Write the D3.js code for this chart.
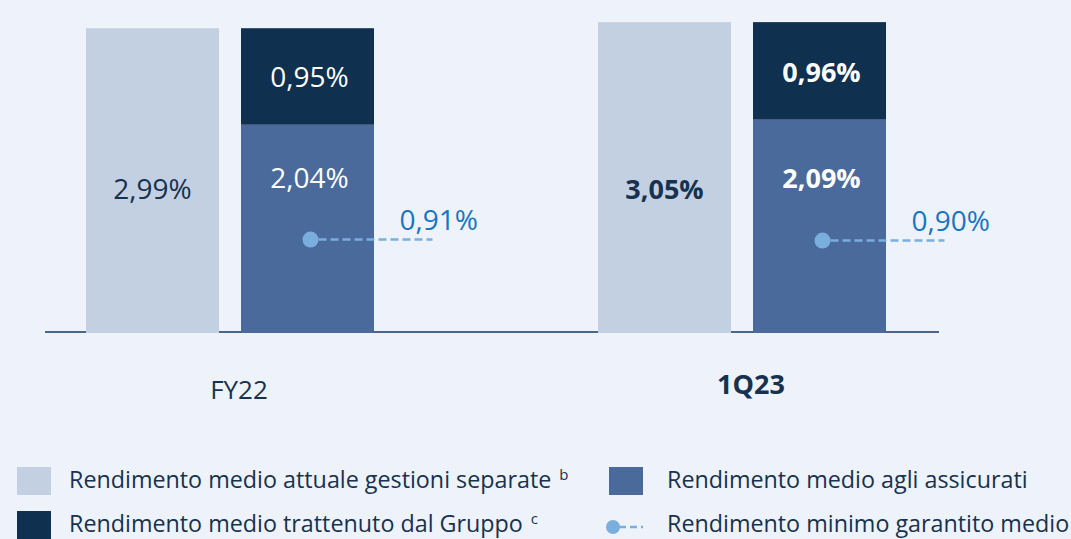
<!DOCTYPE html>
<html>
<head>
<meta charset="utf-8">
<script src="https://cdn.jsdelivr.net/npm/d3@7"></script>
<style>
  html, body { margin: 0; padding: 0; background: #EEF2FA; }
  svg { display: block; font-family: "Open Sans", "Noto Sans", sans-serif; }
</style>
</head>
<body>
<svg id="chart" width="1071" height="539"></svg>
<script>
// ---- data ----
const categories = ["FY22", "1Q23"];
const rendimentoGestioni = [2.99, 3.05];     // Rendimento medio attuale gestioni separate
const rendimentoAssicurati = [2.04, 2.09];   // Rendimento medio agli assicurati
const rendimentoTrattenuto = [0.95, 0.96];   // Rendimento medio trattenuto dal Gruppo
const minimoGarantito = [0.91, 0.90];        // Rendimento minimo garantito medio
const highlighted = [false, true];           // latest period shown in bold

const legendLabels = [
  "Rendimento medio attuale gestioni separate",
  "Rendimento medio agli assicurati",
  "Rendimento medio trattenuto dal Gruppo",
  "Rendimento minimo garantito medio"
];
const legendSup = ["b", "", "c", ""];

// ---- style ----
const C = {
  light: "#C3D0E2",
  mid: "#4A6A9B",
  dark: "#10304F",
  dot: "#7AAEDD",
  dotText: "#1776C2",
  text: "#17324F",
  axis: "#4A6586"
};

const loc = d3.formatLocale({ decimal: ",", thousands: ".", grouping: [3], currency: ["", "€"] });
const fmt = v => loc.format(".2f")(v) + "%";

const svg = d3.select("#chart");
const baseY = 332;

const y = d3.scaleLinear().domain([0, 3.1]).range([baseY, baseY - 3.1 * 101.6]);
const x0 = d3.scaleBand().domain(categories).range([86, 886]).paddingInner(0.4375).paddingOuter(0);
const x1 = d3.scaleBand().domain(["gestioni", "stack"]).range([0, x0.bandwidth()]).paddingInner(0.142).paddingOuter(0);

// axis baseline
svg.append("line")
  .attr("x1", 45).attr("x2", 939)
  .attr("y1", baseY).attr("y2", baseY)
  .attr("stroke", C.axis).attr("stroke-width", 2);

const g = svg.selectAll("g.cat").data(categories).join("g")
  .attr("class", "cat")
  .attr("transform", d => `translate(${x0(d)},0)`);

// light bars
g.append("rect")
  .attr("x", x1("gestioni")).attr("width", x1.bandwidth())
  .attr("y", (d, i) => y(rendimentoGestioni[i]))
  .attr("height", (d, i) => y(0) - y(rendimentoGestioni[i]) + 1)
  .attr("fill", C.light);

// stacked: assicurati (bottom)
g.append("rect")
  .attr("x", x1("stack")).attr("width", x1.bandwidth())
  .attr("y", (d, i) => y(rendimentoAssicurati[i]))
  .attr("height", (d, i) => y(0) - y(rendimentoAssicurati[i]) + 1)
  .attr("fill", C.mid);

// stacked: trattenuto (top)
g.append("rect")
  .attr("x", x1("stack")).attr("width", x1.bandwidth())
  .attr("y", (d, i) => y(rendimentoAssicurati[i] + rendimentoTrattenuto[i]))
  .attr("height", (d, i) => y(rendimentoAssicurati[i]) - y(rendimentoAssicurati[i] + rendimentoTrattenuto[i]))
  .attr("fill", C.dark);

const fw = i => highlighted[i] ? 700 : 400;

// labels light bars
g.append("text")
  .attr("x", x1("gestioni") + x1.bandwidth() / 2)
  .attr("y", 199)
  .attr("text-anchor", "middle")
  .attr("font-size", (d, i) => highlighted[i] ? 27 : 28)
  .attr("font-weight", (d, i) => fw(i))
  .attr("fill", C.text)
  .text((d, i) => fmt(rendimentoGestioni[i]));

// labels assicurati
g.append("text")
  .attr("x", x1("stack") + x1.bandwidth() / 2 + 2)
  .attr("y", 188)
  .attr("text-anchor", "middle")
  .attr("font-size", (d, i) => highlighted[i] ? 27 : 28)
  .attr("font-weight", (d, i) => fw(i))
  .attr("fill", "#FFFFFF")
  .text((d, i) => fmt(rendimentoAssicurati[i]));

// labels trattenuto
g.append("text")
  .attr("x", x1("stack") + x1.bandwidth() / 2 + 2)
  .attr("y", (d, i) => (y(rendimentoAssicurati[i]) + y(rendimentoAssicurati[i] + rendimentoTrattenuto[i])) / 2 + 11)
  .attr("text-anchor", "middle")
  .attr("font-size", (d, i) => highlighted[i] ? 27 : 28)
  .attr("font-weight", (d, i) => fw(i))
  .attr("fill", "#FFFFFF")
  .text((d, i) => fmt(rendimentoTrattenuto[i]));

// minimo garantito: dot + dashed line + label
const dotX = x1("stack") + x1.bandwidth() / 2 + 3;
g.append("line")
  .attr("x1", dotX + 8).attr("x2", dotX + 122)
  .attr("y1", (d, i) => y(minimoGarantito[i])).attr("y2", (d, i) => y(minimoGarantito[i]))
  .attr("stroke", C.dot).attr("stroke-width", 2.5).attr("stroke-dasharray", "8,4");
g.append("circle")
  .attr("cx", dotX).attr("cy", (d, i) => y(minimoGarantito[i]))
  .attr("r", 8).attr("fill", C.dot);
g.append("text")
  .attr("x", dotX + 89)
  .attr("y", (d, i) => y(minimoGarantito[i]) - 10)
  .attr("font-size", 28)
  .attr("fill", C.dotText)
  .text((d, i) => fmt(minimoGarantito[i]));

// category labels
g.append("text")
  .attr("x", x0.bandwidth() / 2 + 9)
  .attr("y", (d, i) => highlighted[i] ? 394 : 399)
  .attr("text-anchor", "middle")
  .attr("font-size", (d, i) => highlighted[i] ? 27 : 26)
  .attr("font-weight", (d, i) => fw(i))
  .attr("fill", C.text)
  .text(d => d);

// ---- legend ----
const legendX = [17, 609];
const textOffset = [52, 58];
const legendY = [467, 511];
const legendKinds = ["rect", "rect", "rect", "dot"];
const legendColors = [C.light, C.mid, C.dark, C.dot];

legendLabels.forEach((label, k) => {
  const col = k % 2, row = Math.floor(k / 2);
  const lx = legendX[col], ly = legendY[row];
  const lg = svg.append("g");
  if (legendKinds[k] === "rect") {
    lg.append("rect").attr("x", lx).attr("y", ly).attr("width", 34).attr("height", 28).attr("fill", legendColors[k]);
  } else {
    lg.append("line").attr("x1", lx + 10).attr("x2", lx + 34).attr("y1", ly + 16).attr("y2", ly + 16)
      .attr("stroke", legendColors[k]).attr("stroke-width", 2.5).attr("stroke-dasharray", "7,4");
    lg.append("circle").attr("cx", lx + 4).attr("cy", ly + 16).attr("r", 7).attr("fill", legendColors[k]);
  }
  const t = lg.append("text")
    .attr("x", lx + textOffset[col]).attr("y", ly + 21)
    .attr("font-size", 23.3).attr("fill", C.text);
  t.append("tspan").text(label);
  if (legendSup[k]) {
    t.append("tspan").attr("dx", 8).attr("dy", -8).attr("font-size", 15).text(legendSup[k]);
  }
});
</script>
</body>
</html>
